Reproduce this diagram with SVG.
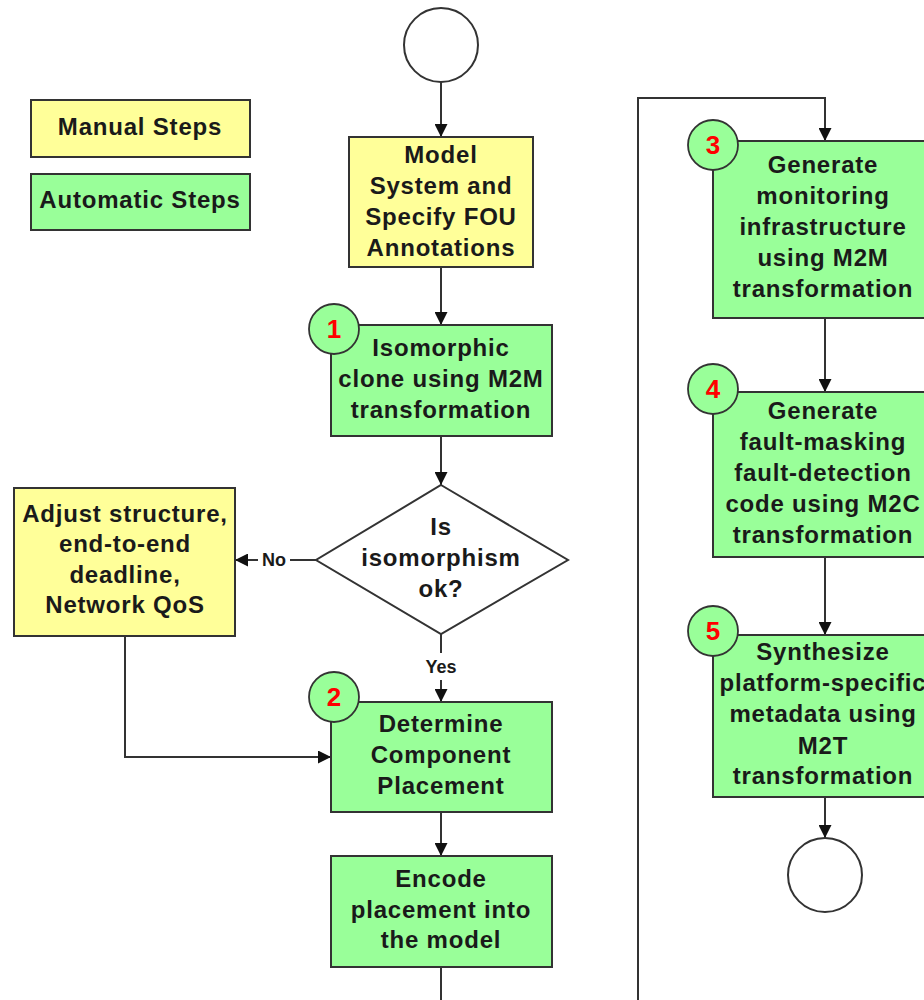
<svg xmlns="http://www.w3.org/2000/svg" width="924" height="1000" viewBox="0 0 924 1000">
<style>
.man{fill:#FFFF99;stroke:#333;stroke-width:2}
.auto{fill:#99FF99;stroke:#333;stroke-width:2}
.term{fill:#fff;stroke:#333;stroke-width:2}
.num{fill:#99FF99;stroke:#333;stroke-width:1.8}
.t{font-family:"Liberation Sans",Arial,sans-serif;font-weight:bold;font-size:24px;letter-spacing:0.8px;fill:#1a1a1a;text-anchor:middle}
.n{font-family:"Liberation Sans",Arial,sans-serif;font-weight:bold;font-size:26px;fill:#FF0000;text-anchor:middle}
.lbl{font-family:"Liberation Sans",Arial,sans-serif;font-weight:bold;font-size:18px;fill:#1a1a1a;text-anchor:middle}
.c{fill:none;stroke:#333;stroke-width:2}
</style>
<defs>
<marker id="ah" viewBox="0 0 10 10" refX="10" refY="5" markerWidth="6.5" markerHeight="6.5" markerUnits="strokeWidth" orient="auto">
<path d="M0,0 L10,5 L0,10 Z" fill="#111"/>
</marker>
</defs>

<g id="connectors">
<path class="c" d="M441,82 V137" marker-end="url(#ah)"/>
<path class="c" d="M441,267 V325" marker-end="url(#ah)"/>
<path class="c" d="M441,436 V485" marker-end="url(#ah)"/>
<path class="c" d="M316,560 H290"/>
<path class="c" d="M258,560 H235" marker-end="url(#ah)"/>
<text class="lbl" x="274" y="566">No</text>
<path class="c" d="M441,634 V653"/>
<path class="c" d="M441,680 V702" marker-end="url(#ah)"/>
<text class="lbl" x="441" y="673">Yes</text>
<path class="c" d="M125,636 V757 H331" marker-end="url(#ah)"/>
<path class="c" d="M441,812 V856" marker-end="url(#ah)"/>
<path class="c" d="M441,967 V1002"/>
<path class="c" d="M638,1002 V98 H825 V141" marker-end="url(#ah)"/>
<path class="c" d="M825,318 V392" marker-end="url(#ah)"/>
<path class="c" d="M825,557 V635" marker-end="url(#ah)"/>
<path class="c" d="M825,797 V838" marker-end="url(#ah)"/>
</g>

<g id="legend-manual">
<rect class="man" x="31" y="100" width="219" height="57"/>
<text class="t" x="140" y="135">Manual Steps</text>
</g>
<g id="legend-auto">
<rect class="auto" x="31" y="174" width="219" height="56"/>
<text class="t" x="140" y="208">Automatic Steps</text>
</g>

<g id="start">
<circle class="term" cx="441" cy="45" r="37"/>
</g>

<g id="model">
<rect class="man" x="349" y="137" width="184" height="130"/>
<text class="t" x="441" y="163">Model</text>
<text class="t" x="441" y="194">System and</text>
<text class="t" x="441" y="225">Specify FOU</text>
<text class="t" x="441" y="256">Annotations</text>
</g>

<g id="step1">
<rect class="auto" x="331" y="325" width="221" height="111"/>
<text class="t" x="441" y="356">Isomorphic</text>
<text class="t" x="441" y="387">clone using M2M</text>
<text class="t" x="441" y="418">transformation</text>
<circle class="num" cx="334" cy="329" r="25"/>
<text class="n" x="334" y="338">1</text>
</g>

<g id="decision">
<polygon points="441,485 568,560 441,634 316,560" fill="#fff" stroke="#333" stroke-width="2"/>
<text class="t" x="441" y="535">Is</text>
<text class="t" x="441" y="566">isomorphism</text>
<text class="t" x="441" y="597">ok?</text>
</g>

<g id="adjust">
<rect class="man" x="14" y="488" width="221" height="148"/>
<text class="t" x="125" y="522">Adjust structure,</text>
<text class="t" x="125" y="552">end-to-end</text>
<text class="t" x="125" y="583">deadline,</text>
<text class="t" x="125" y="613">Network QoS</text>
</g>

<g id="step2">
<rect class="auto" x="331" y="702" width="221" height="110"/>
<text class="t" x="441" y="732">Determine</text>
<text class="t" x="441" y="763">Component</text>
<text class="t" x="441" y="794">Placement</text>
<circle class="num" cx="334" cy="697" r="25"/>
<text class="n" x="334" y="706">2</text>
</g>

<g id="encode">
<rect class="auto" x="331" y="856" width="221" height="111"/>
<text class="t" x="441" y="887">Encode</text>
<text class="t" x="441" y="918">placement into</text>
<text class="t" x="441" y="948">the model</text>
</g>

<g id="step3">
<rect class="auto" x="713" y="141" width="220" height="177"/>
<text class="t" x="823" y="173">Generate</text>
<text class="t" x="823" y="204">monitoring</text>
<text class="t" x="823" y="235">infrastructure</text>
<text class="t" x="823" y="266">using M2M</text>
<text class="t" x="823" y="297">transformation</text>
<circle class="num" cx="713" cy="145" r="25"/>
<text class="n" x="713" y="154">3</text>
</g>

<g id="step4">
<rect class="auto" x="713" y="392" width="220" height="165"/>
<text class="t" x="823" y="419">Generate</text>
<text class="t" x="823" y="450">fault-masking</text>
<text class="t" x="823" y="481">fault-detection</text>
<text class="t" x="823" y="512">code using M2C</text>
<text class="t" x="823" y="543">transformation</text>
<circle class="num" cx="713" cy="389" r="25"/>
<text class="n" x="713" y="398">4</text>
</g>

<g id="step5">
<rect class="auto" x="713" y="635" width="220" height="162"/>
<text class="t" x="823" y="660">Synthesize</text>
<text class="t" x="823" y="691">platform-specific</text>
<text class="t" x="823" y="722">metadata using</text>
<text class="t" x="823" y="754">M2T</text>
<text class="t" x="823" y="784">transformation</text>
<circle class="num" cx="713" cy="631" r="25"/>
<text class="n" x="713" y="640">5</text>
</g>

<g id="end">
<circle class="term" cx="825" cy="875" r="37"/>
</g>
</svg>
